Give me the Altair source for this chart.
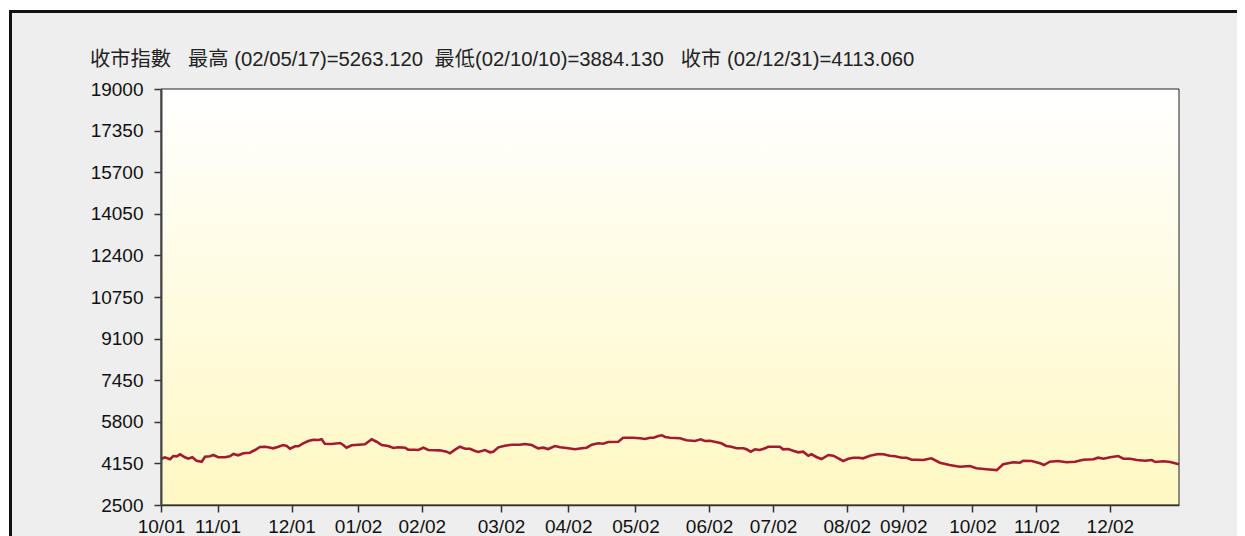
import altair as alt
import pandas as pd

# trading-day position (0 = first session of Oct 2001) and closing index
day = [0, 1.2, 2.8, 3.8, 4.9, 5.9, 7.4, 8.4, 9.7, 11.0, 12.6, 13.6, 15.2, 16.2, 17.7, 19.8,
       21.3, 22.4, 23.9, 25.5, 27.5, 29.1, 30.6, 32.2, 33.2, 34.7, 36.3, 37.8, 38.9, 39.9,
       41.5, 42.5, 44.0, 45.6, 47.1, 48.7, 49.7, 50.7, 52.8, 55.4, 56.4, 57.4, 59.0, 61.0,
       63.1, 65.2, 66.7, 68.3, 70.3, 71.9, 73.4, 75.5, 76.5, 78.6, 79.6, 81.2, 82.7, 86.3,
       88.4, 89.4, 91.0, 92.5, 94.1, 95.6, 97.2, 98.2, 100.2, 101.8, 102.8, 104.4, 106.4,
       108.5, 111.0, 112.6, 114.7, 116.7, 118.3, 119.8, 121.9, 123.5, 125.5, 128.1, 130.2,
       131.7, 133.3, 135.3, 136.8, 138.4, 141.5, 143.0, 146.1, 148.2, 149.8, 151.3, 152.4,
       153.9, 155.0, 156.0, 157.5, 160.6, 162.6, 165.2, 167.0, 168.3, 169.8, 171.3, 173.4,
       174.9, 176.5, 178.1, 180.2, 181.2, 182.5, 183.8, 185.3, 186.9, 187.9, 191.5, 192.5,
       194.1, 195.6, 197.2, 198.7, 200.3, 201.3, 202.8, 204.4, 206.5, 208.0, 209.6, 211.1,
       212.7, 214.2, 215.8, 217.3, 219.4, 221.9, 223.5, 225.5, 227.1, 229.2, 230.7, 232.3,
       233.8, 235.9, 238.4, 241.0, 244.0, 247.2, 250.3, 252.3, 255.4, 258.6, 260.6, 263.7,
       265.8, 266.8, 269.4, 272.0, 273.2, 275.0, 277.6, 280.2, 282.8, 285.4, 288.5, 290.0,
       291.6, 293.7, 296.2, 297.8, 299.9, 302.0, 304.5, 306.6, 307.7, 310.2, 312.3, 315.0]
close = [4324, 4392, 4312, 4443, 4431, 4511, 4392, 4336, 4392, 4257, 4217, 4416, 4431, 4483,
         4392, 4392, 4431, 4523, 4471, 4550, 4574, 4681, 4800, 4812, 4788, 4749, 4812, 4880,
         4840, 4733, 4828, 4828, 4947, 5038, 5090, 5078, 5106, 4931, 4919, 4959, 4880, 4773,
         4868, 4891, 4907, 5106, 5010, 4880, 4840, 4761, 4788, 4773, 4693, 4693, 4681, 4773,
         4681, 4668, 4614, 4550, 4693, 4812, 4733, 4733, 4641, 4602, 4681, 4590, 4614, 4788,
         4852, 4891, 4891, 4919, 4880, 4749, 4773, 4721, 4840, 4788, 4761, 4709, 4749, 4773,
         4891, 4947, 4931, 4999, 5010, 5169, 5169, 5145, 5118, 5169, 5169, 5237, 5263, 5197,
         5169, 5145, 5066, 5038, 5106, 5038, 5050, 5010, 4947, 4840, 4812, 4749, 4749, 4709,
         4614, 4709, 4681, 4749, 4812, 4812, 4709, 4721, 4653, 4590, 4614, 4455, 4511, 4404,
         4324, 4483, 4455, 4352, 4245, 4336, 4376, 4376, 4352, 4455, 4523, 4511, 4455, 4431,
         4376, 4376, 4297, 4297, 4285, 4352, 4178, 4086, 4019, 4047, 3955, 3916, 3884, 4114,
         4193, 4178, 4257, 4245, 4154, 4086, 4217, 4245, 4193, 4217, 4297, 4312, 4376, 4336,
         4392, 4443, 4336, 4336, 4285, 4257, 4285, 4205, 4233, 4205, 4113]

tick_pos = [0, 17.5, 40.4, 61.0, 80.7, 105.2, 126.0, 146.8, 169.6, 189.4, 212.2, 229.7,
            251.1, 270.9, 293.6]
tick_lab = ["10/01", "11/01", "12/01", "01/02", "02/02", "03/02", "04/02", "05/02",
            "06/02", "07/02", "08/02", "09/02", "10/02", "11/02", "12/02"]
y_ticks = [2500, 4150, 5800, 7450, 9100, 10750, 12400, 14050, 15700, 17350, 19000]

SP = "\u00a0"
title_text = ("收市指數" + SP * 3 + "最高" + SP + "(02/05/17)=5263.120" + SP * 2 +
              "最低(02/10/10)=3884.130" + SP * 3 + "收市" + SP + "(02/12/31)=4113.060")

FONT = "'Liberation Sans', Arial, 'Noto Sans CJK TC', sans-serif"
W, H = 1018, 416

df = pd.DataFrame({"day": day, "close": close})

lab_expr = "".join(f"abs(datum.value - {p}) < 0.01 ? '{t}' : " for p, t in zip(tick_pos, tick_lab)) + "''"

xscale = alt.Scale(domain=[0, 315], nice=False, zero=False)
yscale = alt.Scale(domain=[2500, 19000], nice=False, zero=False)

one = alt.Data(values=[{"t": title_text}])

frame = alt.Chart(one).mark_rect(fill="#eeeeee", stroke="#111111", strokeWidth=3).encode(
    x=alt.value(-150.5), x2=alt.value(1300), y=alt.value(-77.5), y2=alt.value(700))

grad = alt.Chart(one).mark_rect(
    color=alt.LinearGradient(gradient="linear", x1=0, x2=0, y1=0, y2=1,
                             stops=[alt.GradientStop(color="#ffffff", offset=0),
                                    alt.GradientStop(color="#fff8c3", offset=1)]),
    stroke="#222222", strokeWidth=1).encode(
    x=alt.value(0), x2=alt.value(W), y=alt.value(0), y2=alt.value(H))

title = alt.Chart(one).mark_text(align="left", baseline="alphabetic", font=FONT,
                                 fontSize=20.3, color="#222222").encode(
    x=alt.value(-71), y=alt.value(-23), text="t:N")

line = alt.Chart(df).mark_line(color="#a31b2e", strokeWidth=2.6).encode(
    x=alt.X("day:Q", scale=xscale,
            axis=alt.Axis(title=None, values=tick_pos, labelExpr=lab_expr, grid=False,
                          labelFont=FONT, labelFontSize=19, labelColor="#111111",
                          labelFlush=False, labelOverlap=False, labelPadding=5,
                          tickSize=7, tickColor="#333333", tickWidth=1.5,
                          domainColor="#333333", domainWidth=1.5, zindex=1)),
    y=alt.Y("close:Q", scale=yscale,
            axis=alt.Axis(title=None, values=y_ticks, format="d", grid=False,
                          labelFont=FONT, labelFontSize=19, labelColor="#111111",
                          labelFlush=False, labelOverlap=False, labelPadding=11,
                          tickSize=7, tickColor="#333333", tickWidth=1.5,
                          domainColor="#444444", domainWidth=2, zindex=1)),
)

chart = alt.layer(frame, grad, title, line).properties(
    width=W, height=H,
    autosize=alt.AutoSizeParams(type="none"),
    padding={"left": 153, "top": 81, "right": 58, "bottom": 31},
    background="#ffffff",
).configure_view(stroke=None)

chart.save("out.html", embed_options={"renderer": "svg", "actions": False})
